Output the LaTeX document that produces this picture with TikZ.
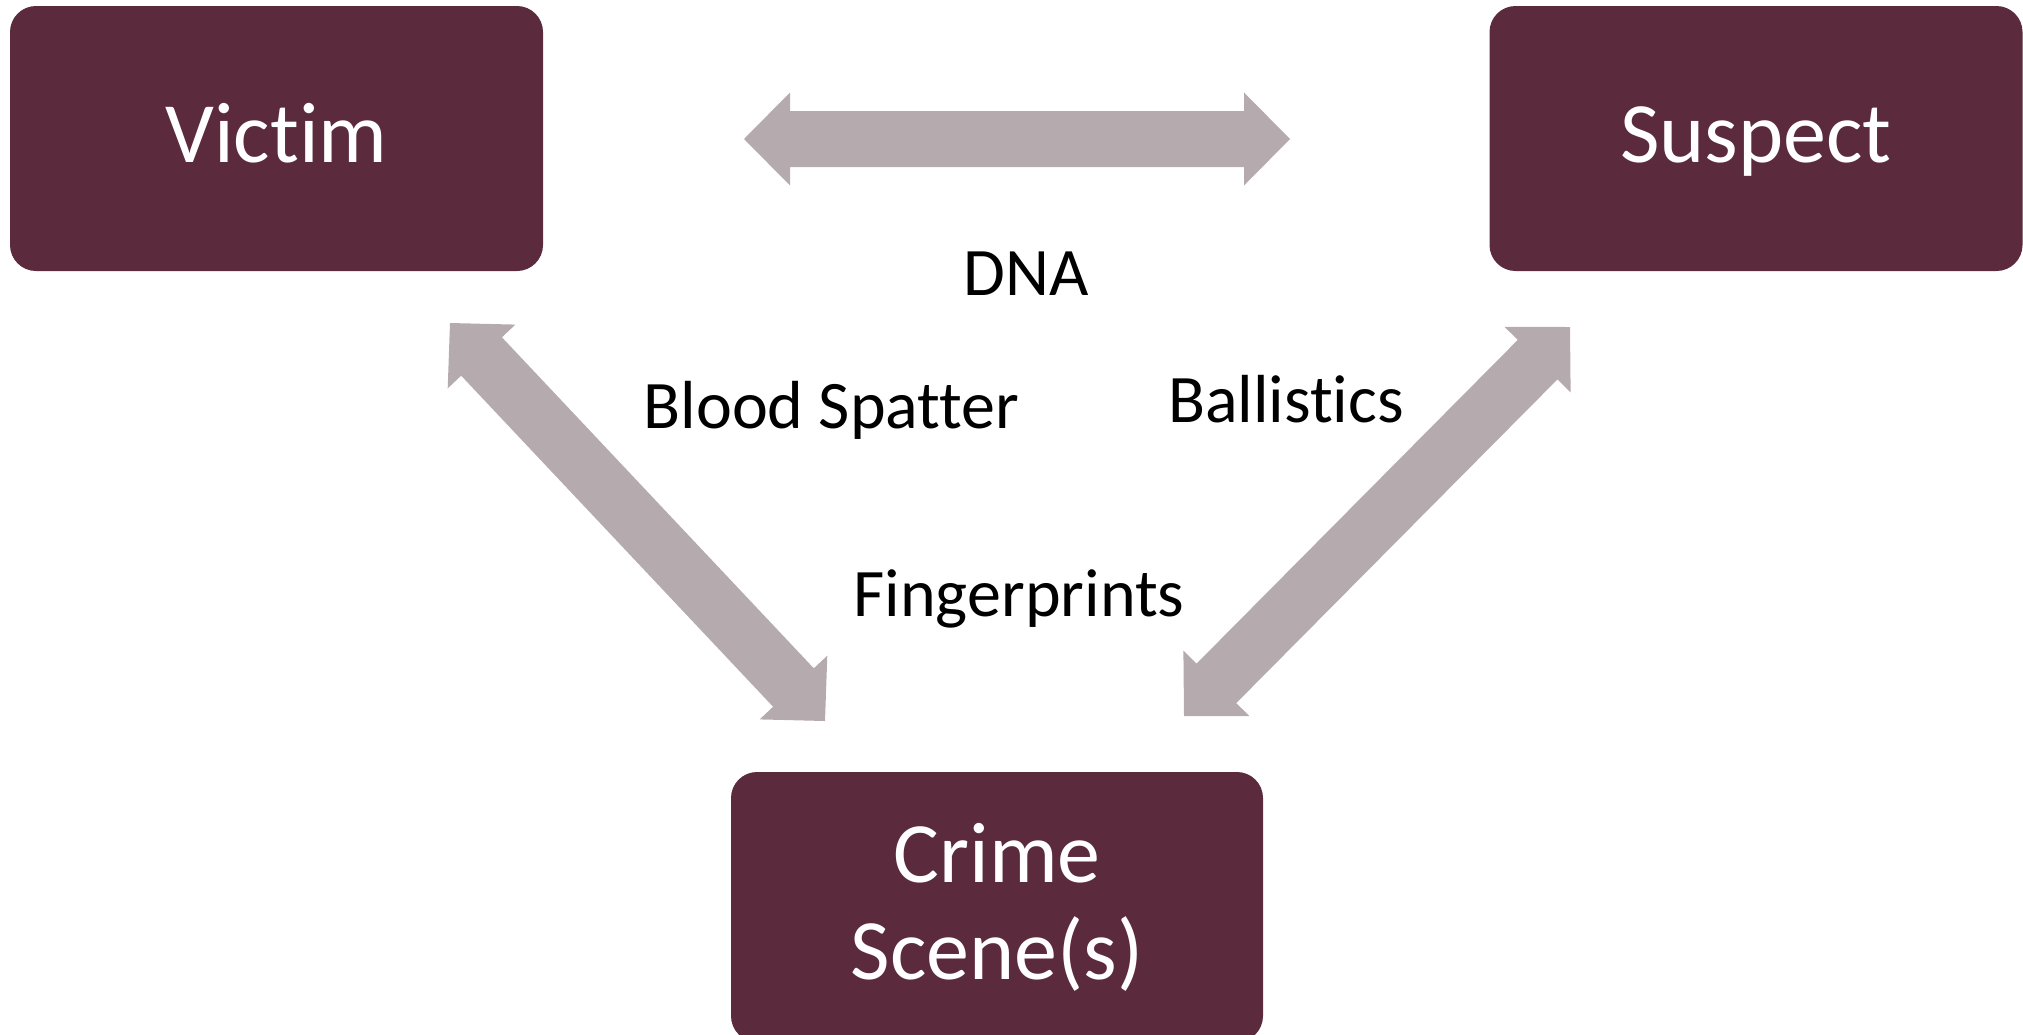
\documentclass[tikz,border=0pt]{standalone}
\usepackage{fontspec}
\setmainfont{Carlito}[Ligatures={NoCommon,NoRare,NoContextual}]
\usetikzlibrary{calc}
\definecolor{boxc}{HTML}{5C2A3D}
\definecolor{arrc}{HTML}{B5ABAE}
\newcommand{\blockarrow}[2]{%
  \fill[arrc] (#1)
    -- ($(#1)!46pt!(#2)!46.5pt!90:(#2)$)
    -- ($(#1)!46pt!(#2)!28pt!90:(#2)$)
    -- ($(#2)!46pt!(#1)!28pt!-90:(#1)$)
    -- ($(#2)!46pt!(#1)!46.5pt!-90:(#1)$)
    -- (#2)
    -- ($(#2)!46pt!(#1)!46.5pt!90:(#1)$)
    -- ($(#2)!46pt!(#1)!28pt!90:(#1)$)
    -- ($(#1)!46pt!(#2)!28pt!-90:(#2)$)
    -- ($(#1)!46pt!(#2)!46.5pt!-90:(#2)$)
    -- cycle;}
\begin{document}
\begin{tikzpicture}[x=1pt,y=-1pt,
  bigbox/.style={fill=boxc, rounded corners=26pt, text=white, minimum width=533pt,
    inner sep=0pt, font=\fontsize{86}{97}\selectfont},
  lbl/.style={anchor=base, text=black, inner sep=0pt, font=\fontsize{68}{80}\selectfont}]
\useasboundingbox (0,0) rectangle (2023,1034);
% boxes
\node[bigbox, minimum height=265pt, text height=65pt, text depth=17pt] (victim) at (276.5,138.5) {Victim};
\node[bigbox, minimum height=265pt, text height=65pt, text depth=17pt] (suspect) at (1756,138.5) {Suspect};
\node[bigbox, minimum width=532pt, minimum height=270pt, align=center] (crime) at (997,907) {Crime\\Scene(s)};
% arrow end points
\coordinate (dnaL) at (744,139);
\coordinate (dnaR) at (1290,139);
\coordinate (vcA) at (450,323);
\coordinate (vcB) at (825,721);
\coordinate (scA) at (1570,327);
\coordinate (scB) at (1184,716);
\blockarrow{dnaL}{dnaR}
\blockarrow{vcA}{vcB}
\blockarrow{scA}{scB}
% labels
\node[lbl] (dna) at (1026,295.5) {DNA};
\node[lbl] (blood) at (831.5,428.3) {Blood Spatter};
\node[lbl] (ball) at (1286,422) {Ballistics};
\node[lbl] (finger) at (1019,616.7) {Fingerprints};
\end{tikzpicture}
\end{document}
